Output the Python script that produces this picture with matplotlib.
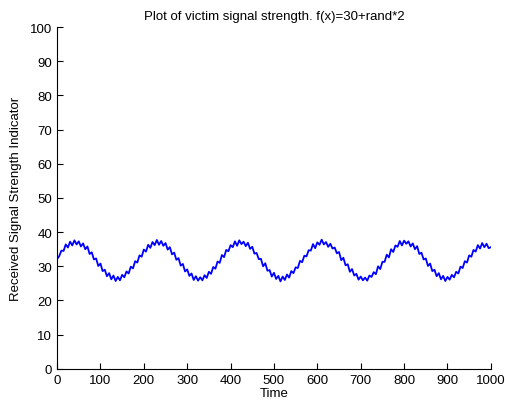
import matplotlib
matplotlib.use("Agg")
import matplotlib.pyplot as plt

# time step 5 (includes the visible jitter)
time = list(range(0, 1001, 5))
rssi = [
    32.1, 33.0, 34.6, 34.5, 36.4, 35.5, 37.2, 36.1, 37.6, 36.4,
    37.3, 35.8, 36.7, 35.0, 35.8, 33.6, 34.1, 32.0, 32.3, 30.1,
    30.8, 28.6, 29.0, 27.1, 28.0, 26.2, 27.3, 25.7, 26.9, 25.9,
    27.5, 26.8, 28.5, 27.9, 29.9, 29.4, 31.5, 31.1, 33.2, 32.8,
    34.9, 34.3, 36.3, 35.4, 37.1, 36.2, 37.7, 36.3, 37.4, 36.0,
    36.8, 34.9, 35.6, 33.5, 34.0, 31.9, 32.4, 30.2, 30.7, 28.5,
    29.1, 27.2, 27.9, 26.0, 27.1, 25.8, 26.8, 25.9, 27.4, 26.6,
    28.4, 27.8, 29.8, 29.3, 31.4, 31.0, 33.3, 32.7, 34.8, 34.4,
    36.2, 35.6, 37.3, 36.0, 37.6, 36.5, 37.2, 35.9, 36.9, 35.1,
    35.7, 33.7, 33.9, 32.1, 32.2, 30.0, 30.9, 28.7, 28.9, 27.0,
    28.1, 26.3, 27.2, 25.6, 27.0, 26.0, 27.6, 26.7, 28.6, 28.0,
    29.7, 29.5, 31.6, 31.2, 33.1, 32.9, 34.7, 34.6, 36.5, 35.3,
    37.0, 36.3, 37.8, 36.4, 37.1, 35.7, 36.6, 35.2, 35.5, 33.8,
    34.2, 31.8, 32.5, 30.3, 30.6, 28.4, 29.2, 27.3, 27.8, 26.1,
    27.0, 25.9, 26.7, 25.8, 27.3, 26.9, 28.3, 27.7, 30.0, 29.2,
    31.3, 31.3, 33.4, 32.6, 35.0, 34.2, 36.1, 35.7, 37.4, 36.1,
    37.5, 36.6, 37.3, 35.8, 36.7, 35.0, 35.9, 33.6, 34.0, 32.0,
    32.3, 30.1, 30.8, 28.6, 29.0, 27.1, 28.0, 26.2, 27.2, 25.7,
    26.9, 26.1, 27.5, 26.8, 28.4, 27.9, 29.9, 29.5, 31.5, 31.1,
    33.2, 32.8, 34.8, 34.3, 36.2, 35.2, 36.8, 35.6, 36.6, 35.3,
    35.6,
]

x_ticks = list(range(0, 1001, 100))
y_ticks = list(range(0, 101, 10))

plt.rcParams["font.family"] = ["Liberation Sans", "DejaVu Sans"]

fig = plt.figure(figsize=(5.05, 4.06), dpi=100)
ax = fig.add_axes([0.113, 0.089, 0.859, 0.842])

ax.plot(time, rssi, color="#0000ff", linewidth=1.3)

ax.set_xlim(0, 1000)
ax.set_ylim(0, 100)
ax.set_xticks(x_ticks)
ax.set_yticks(y_ticks)
ax.tick_params(direction="in", length=4, width=0.8, labelsize=9.5, colors="black")
ax.spines["top"].set_visible(False)
ax.spines["right"].set_visible(False)

ax.set_title("Plot of victim signal strength. f(x)=30+rand*2", fontsize=9.5, pad=6)
ax.set_xlabel("Time", fontsize=9.5, labelpad=1)
ax.set_ylabel("Received Signal Strength Indicator", fontsize=9.5, labelpad=6)

fig.savefig("out.png", dpi=100)
